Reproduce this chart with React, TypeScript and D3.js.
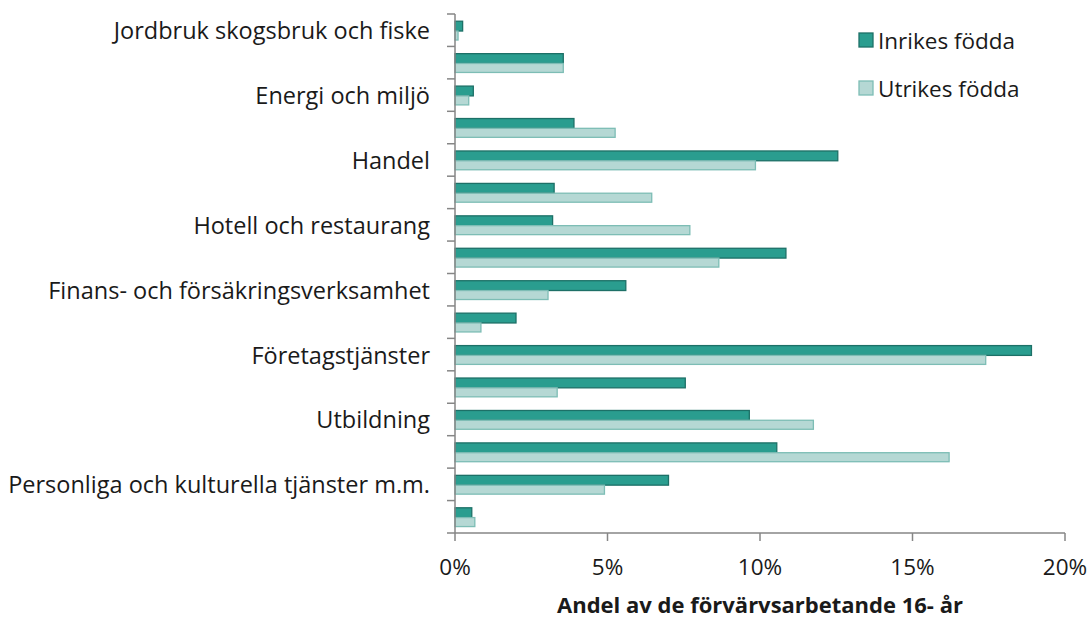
import * as d3 from "d3";

const categories = [
  "Jordbruk skogsbruk och fiske",
  "Tillverkning och utvinning",
  "Energi och miljö",
  "Byggverksamhet",
  "Handel",
  "Transport",
  "Hotell och restaurang",
  "Information och kommunikation",
  "Finans- och försäkringsverksamhet",
  "Fastighetsverksamhet",
  "Företagstjänster",
  "Offentlig förvaltning m.m.",
  "Utbildning",
  "Vård och omsorg",
  "Personliga och kulturella tjänster m.m.",
  "Okänd verksamhet",
];
const inrikes = [0.25, 3.55, 0.6, 3.9, 12.55, 3.25, 3.2, 10.85, 5.6, 2.0, 18.9, 7.55, 9.65, 10.55, 7.0, 0.55];
const utrikes = [0.1, 3.55, 0.45, 5.25, 9.85, 6.45, 7.7, 8.65, 3.05, 0.85, 17.4, 3.35, 11.75, 16.2, 4.9, 0.65];
const xTicks = [0, 5, 10, 15, 20];
const seriesNames = ["Inrikes födda", "Utrikes födda"];

const W = 1091;
const H = 619;
const FONT = "'Open Sans', sans-serif";
const FS = 22.5;
const C_IN = { fill: "#2a9d8f", stroke: "#1d7067" };
const C_UT = { fill: "#b5d8d4", stroke: "#7dbdb5" };
const AXIS = "#868686";

export default function App() {
  const x = d3.scaleLinear().domain([0, 20]).range([455, 1065]);
  const y = d3.scaleBand().domain(categories).range([14, 533]);
  const barH = 9.8;

  return (
    <svg width={W} height={H} style={{ position: "absolute", left: 0, top: 0, fontFamily: FONT }}>
      {categories.map((c, i) => {
        const y0 = (y(c) as number) + y.bandwidth() / 2 + 0.8;
        return (
          <g key={c}>
            <rect x={x(0)} y={y0 - barH} width={x(inrikes[i]) - x(0)} height={barH}
              fill={C_IN.fill} stroke={C_IN.stroke} strokeWidth={1.3} />
            <rect x={x(0)} y={y0} width={x(utrikes[i]) - x(0)} height={barH - 0.8}
              fill={C_UT.fill} stroke={C_UT.stroke} strokeWidth={1.3} />
            {i % 2 === 0 && (
              <text x={430} y={y0 - 0.8} textAnchor="end" dominantBaseline="central" fontSize={23.5} fill="#1a1a1a">
                {c}
              </text>
            )}
          </g>
        );
      })}
      {/* y axis */}
      <line x1={455} x2={455} y1={14} y2={533} stroke={AXIS} strokeWidth={1.5} />
      {d3.range(categories.length + 1).map((i) => {
        const yy = 14 + i * y.step();
        return <line key={i} x1={447} x2={455} y1={yy} y2={yy} stroke={AXIS} strokeWidth={1.5} />;
      })}
      {/* x axis */}
      <line x1={455} x2={1065} y1={533} y2={533} stroke={AXIS} strokeWidth={1.5} />
      {xTicks.map((t) => (
        <g key={t}>
          <line x1={x(t)} x2={x(t)} y1={533} y2={541} stroke={AXIS} strokeWidth={1.5} />
          <text x={x(t)} y={566} textAnchor="middle" dominantBaseline="central" fontSize={FS} fill="#1a1a1a">
            {t}%
          </text>
        </g>
      ))}
      <text x={760} y={604} textAnchor="middle" dominantBaseline="central" fontSize={22} fontWeight="bold" fill="#1a1a1a">
        Andel av de förvärvsarbetande 16- år
      </text>
      {/* legend */}
      {seriesNames.map((s, i) => {
        const col = i === 0 ? C_IN : C_UT;
        const ly = 40 + i * 48;
        return (
          <g key={s}>
            <rect x={859} y={ly - 7} width={14} height={14} fill={col.fill} stroke={col.stroke} strokeWidth={1.3} />
            <text x={878} y={ly} dominantBaseline="central" fontSize={FS} fill="#1a1a1a">{s}</text>
          </g>
        );
      })}
    </svg>
  );
}
